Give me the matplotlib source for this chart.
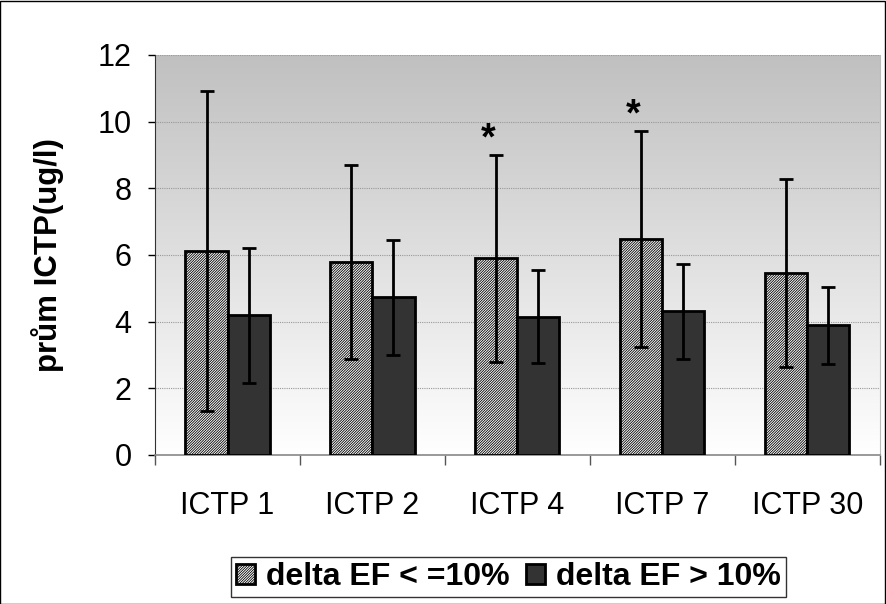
import numpy as np
import matplotlib.pyplot as plt
from matplotlib.patches import Rectangle

plt.rcParams['font.family'] = ['Liberation Sans', 'DejaVu Sans']
plt.rcParams['hatch.linewidth'] = 0.6

categories = ['ICTP 1', 'ICTP 2', 'ICTP 4', 'ICTP 7', 'ICTP 30']
low_mean = [6.12, 5.79, 5.90, 6.48, 5.46]
low_err = [4.80, 2.90, 3.10, 3.25, 2.82]
high_mean = [4.19, 4.73, 4.15, 4.31, 3.89]
high_err = [2.03, 1.72, 1.40, 1.43, 1.16]
labels = ['delta EF < =10%', 'delta EF > 10%']
star_idx = [2, 3]

fig = plt.figure(figsize=(8.86, 6.04), dpi=100)
ax = fig.add_axes([0.175, 0.2467, 0.818, 0.6623])

# gradient background (grey top -> white bottom)
top_c = np.array([192, 192, 192]) / 255
bot_c = np.array([255, 255, 255]) / 255
t = np.linspace(0, 1, 256).reshape(-1, 1, 1)
img = top_c * (1 - t) + bot_c * t
ax.imshow(img, extent=[0, 1, 0, 1], transform=ax.transAxes, aspect='auto', zorder=0)

x = np.arange(len(categories))
w = 0.29
err_kw = dict(ecolor='black', elinewidth=2, capsize=4.8, capthick=2)
ax.bar(x - w / 2, low_mean, w, yerr=low_err, color='white', edgecolor='black',
       hatch='/' * 13, linewidth=2, error_kw=err_kw, label=labels[0], zorder=3)
ax.bar(x + w / 2, high_mean, w, yerr=high_err, color='#333333', edgecolor='black',
       linewidth=2, error_kw=err_kw, label=labels[1], zorder=3)

for i in star_idx:
    ax.text(x[i] - w / 2 - 0.055, low_mean[i] + low_err[i] + 0.15, '*',
            ha='center', va='baseline', fontsize=27, fontweight='bold', zorder=4)

ax.set_xlim(-0.5, len(categories) - 0.5)
ax.set_ylim(0, 12)
ax.set_yticks(range(0, 13, 2))
ax.set_xticks(np.arange(-0.5, len(categories), 1.0), minor=False)
ax.set_xticklabels([])
ax.set_xticks(x, minor=True)
ax.set_xticklabels(categories, minor=True)
ax.tick_params(axis='x', which='minor', length=0, pad=26, labelsize=22)
ax.tick_params(axis='x', which='major', length=7, width=1, direction='out', color='#555555')
ax.tick_params(axis='y', length=5, width=1, labelsize=22, pad=12)
ax.grid(axis='y', color='#999999', linestyle=(0, (1, 1)), linewidth=0.8, zorder=1)
ax.set_axisbelow(True)

ax.spines['top'].set_visible(False)
ax.spines['right'].set_color('#bbbbbb')
ax.spines['bottom'].set_color('#888888')
ax.spines['bottom'].set_linewidth(1.2)
ax.spines['left'].set_color('#333333')

ax.set_ylabel('prům ICTP(ug/l)', fontsize=22.5, fontweight='bold', labelpad=24)

leg = fig.legend(loc='center', bbox_to_anchor=(0.574, 0.0447), ncol=2,
                 prop={'size': 23, 'weight': 'bold'}, frameon=True, fancybox=False,
                 edgecolor='black', handlelength=0.6, handleheight=0.6,
                 handletextpad=0.35, columnspacing=0.5, borderpad=0.15,
                 borderaxespad=0)
leg.get_frame().set_linewidth(1)

fig.add_artist(Rectangle((0.0005, 0.0008), 0.998, 0.998, transform=fig.transFigure,
                         fill=False, edgecolor='black', linewidth=1))

fig.savefig('out.png', dpi=100)
